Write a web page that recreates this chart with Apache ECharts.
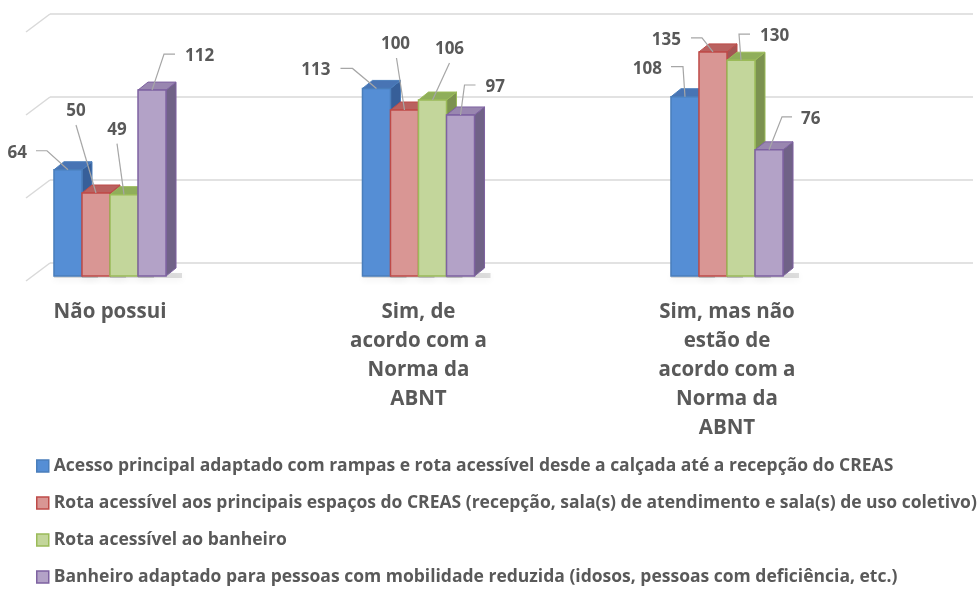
<!DOCTYPE html>
<html><head><meta charset="utf-8">
<script src="https://cdn.jsdelivr.net/npm/echarts@6/dist/echarts.min.js"></script>
<style>html,body{margin:0;padding:0;background:#fff}#c{width:980px;height:595px}</style>
</head><body><div id="c"></div>
<script>
// ---- data ----
const categories = ['Não possui', 'Sim, de\nacordo com a\nNorma da\nABNT', 'Sim, mas não\nestão de\nacordo com a\nNorma da\nABNT'];
const seriesNames = [
  'Acesso principal adaptado com rampas e rota acessível desde a calçada até a recepção do CREAS',
  'Rota acessível aos principais espaços do CREAS (recepção, sala(s) de atendimento e sala(s) de uso coletivo)',
  'Rota acessível ao banheiro',
  'Banheiro adaptado para pessoas com mobilidade reduzida (idosos, pessoas com deficiência, etc.)'
];
const acessoPrincipal = [64, 113, 108];
const rotaPrincipais = [50, 100, 135];
const rotaBanheiro = [49, 106, 130];
const banheiroAdaptado = [112, 97, 76];
const gridTicks = [0, 50, 100, 150];

// ---- styles ----
const FONT = '"Open Sans", "Liberation Sans", sans-serif';
const TXT = '#595959';
const COL = [
  {front:'#558ED5', border:'#4A7EBB', top:'#4874B4', side:'#375F99'},
  {front:'#D99694', border:'#BE4B48', top:'#B9615F', side:'#A35654'},
  {front:'#C3D69B', border:'#9BBB59', top:'#8FAE5A', side:'#7C9250'},
  {front:'#B3A2C7', border:'#7E62A1', top:'#9986B0', side:'#706287'}
];
const BAR_RATIO = 0.0908, DX = 10, DY = -8;
// label placement relative to bar top centre: knee, horizontal end, text anchor, align
const labelLayout = [
  [{k:[-21,-19],h:[-32,-19],t:[-41,-17],a:'right'},{k:[-24,-20],h:[-36,-20],t:[-46,-18],a:'right'},{k:[-2,-30],h:[-14,-30],t:[-23,-28],a:'right'}],
  [{k:[-20,-68],h:null,t:[-20,-82],a:'center'},{k:[-8,-52],h:null,t:[-9,-66],a:'center'},{k:[-11,-14],h:[-22,-14],t:[-32,-12],a:'right'}],
  [{k:[-7,-51],h:null,t:[-7,-65],a:'center'},{k:[17,-37],h:null,t:[17,-51],a:'center'},{k:[-2,-26],h:[9,-26],t:[19,-24],a:'left'}],
  [{k:[12,-36],h:[23,-36],t:[33,-34],a:'left'},{k:[4,-30],h:[15,-30],t:[25,-28],a:'left'},{k:[13,-33],h:[23,-33],t:[32,-31],a:'left'}]
];
const seriesData = [acessoPrincipal, rotaPrincipais, rotaBanheiro, banheiroAdaptado];

function makeRender(s) {
  return function (params, api) {
    const cat = api.value(0), val = api.value(1);
    const top = api.coord([cat, val]);
    const base = api.coord([cat, 0]);
    const w = api.size([1, 0])[0] * BAR_RATIO;
    const x0 = top[0] + (s - 2) * w, x1 = x0 + w;
    const y = top[1], b = base[1];
    const c = COL[s];
    const lay = labelLayout[s][cat];
    const bx = (x0 + x1) / 2, by = y;
    const pts = [[bx, by], [bx + lay.k[0], by + lay.k[1]]];
    if (lay.h) pts.push([bx + lay.h[0], by + lay.h[1]]);
    return {
      type: 'group',
      children: [
        {type:'rect', z2:-10, shape:{x:x0, y:b-3, width:w+DX+6, height:5},
          style:{fill:'rgba(0,0,0,0.12)', shadowBlur:7, shadowColor:'rgba(0,0,0,0.45)', shadowOffsetY:2}},
        {type:'polygon', shape:{points:[[x1,y],[x1+DX,y+DY],[x1+DX,b+DY],[x1,b]]},
          style:{fill:c.side, stroke:c.border, lineWidth:1}},
        {type:'polygon', shape:{points:[[x0,y],[x1,y],[x1+DX,y+DY],[x0+DX,y+DY]]},
          style:{fill:c.top, stroke:c.border, lineWidth:1}},
        {type:'rect', shape:{x:x0, y:y, width:w, height:b-y},
          style:{fill:c.front, stroke:c.border, lineWidth:1.5}},
        {type:'polyline', z2:100, shape:{points:pts}, style:{stroke:'#A6A6A6', lineWidth:1.2, fill:null}},
        {type:'text', z2:101, style:{x:bx+lay.t[0], y:by+lay.t[1], text:String(val), align:lay.a, verticalAlign:'middle',
          fill:TXT, font:'bold 17px ' + FONT}}
      ]
    };
  };
}

const series = seriesData.map((arr, s) => ({
  name: seriesNames[s], type:'custom', xAxisIndex:0, yAxisIndex:0,
  itemStyle:{color:COL[s].front},
  renderItem: makeRender(s),
  data: arr.map((v, i) => [i, v])
}));
series.unshift({
  type:'custom', xAxisIndex:1, yAxisIndex:1, silent:true,
  renderItem: function (params, api) {
    const p = api.coord([0, api.value(1)]);
    return {type:'line', shape:{x1:p[0], y1:p[1], x2:p[0]-24, y2:p[1]+18}, style:{stroke:'#D9D9D9', lineWidth:1.5}};
  },
  data: gridTicks.map(v => [0, v])
});

const chart = echarts.init(document.getElementById('c'), null, {renderer:'canvas'});
chart.setOption({
  animation:false,
  backgroundColor:'#fff',
  grid:[
    {left:110, right:253, top:27, bottom:319},
    {left:50, right:7, top:14, bottom:332}
  ],
  xAxis:[
    {type:'category', gridIndex:0, data:categories, boundaryGap:false,
      axisLine:{show:false}, axisTick:{show:false}, splitLine:{show:false},
      axisLabel:{margin:22, interval:0, color:TXT, fontFamily:FONT, fontWeight:'bold', fontSize:20.5, lineHeight:29, align:'center'}},
    {type:'value', gridIndex:1, min:0, max:1, show:false}
  ],
  yAxis:[
    {type:'value', gridIndex:0, min:0, max:150, show:false},
    {type:'value', gridIndex:1, min:0, max:150, interval:50,
      axisLine:{show:false}, axisTick:{show:false}, axisLabel:{show:false},
      splitLine:{lineStyle:{color:'#D9D9D9', width:1.5}}}
  ],
  legend:{
    orient:'vertical', left:31, top:452, height:200, itemGap:19, itemWidth:12, itemHeight:12,
    selectedMode:false,
    textStyle:{fontFamily:FONT, fontWeight:'bold', fontSize:17.5, color:TXT, lineHeight:17, padding:[0,0,0,0]},
    data: seriesNames.map((n, i) => ({name:n, icon:'rect',
      itemStyle:{color:COL[i].front, borderColor:COL[i].border, borderWidth:1.5}}))
  },
  series: series
});
</script>
</body></html>
